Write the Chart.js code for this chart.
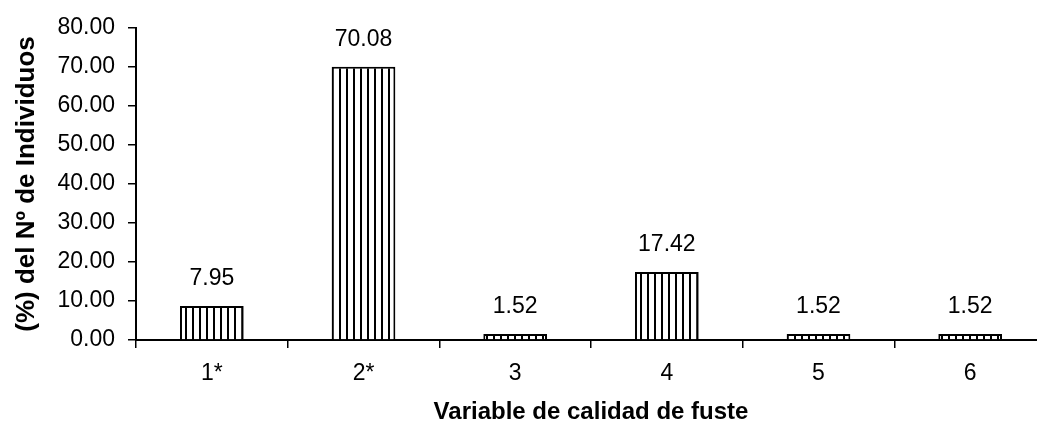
<!DOCTYPE html>
<html>
<head>
<meta charset="utf-8">
<script src="https://cdn.jsdelivr.net/npm/chart.js@4"></script>
<style>
  html, body { margin:0; padding:0; background:#fff; overflow:hidden; }
  #wrap { width:1046px; height:429px; }
</style>
</head>
<body>
<div id="wrap"><canvas id="chart"></canvas></div>
<script>
const categories = ['1*', '2*', '3', '4', '5', '6'];
// bar heights as drawn, and the labels printed above them
const barValues = [8.7, 70.08, 1.52, 17.42, 1.52, 1.52];
const barLabels = ['7.95', '70.08', '1.52', '17.42', '1.52', '1.52'];
const yTicks = [0, 10, 20, 30, 40, 50, 60, 70, 80];

const FONT = "'Liberation Sans', Arial, sans-serif";

// vertical stripe fill
function stripes() {
  const c = document.createElement('canvas');
  c.width = 7; c.height = 7;
  const g = c.getContext('2d');
  g.fillStyle = '#fff'; g.fillRect(0, 0, 7, 7);
  g.fillStyle = '#000'; g.fillRect(3, 0, 2, 7);
  return g.createPattern(c, 'repeat');
}

const valueLabels = {
  id: 'valueLabels',
  afterDatasetsDraw(chart) {
    const ctx = chart.ctx;
    ctx.save();
    ctx.font = '23px ' + FONT;
    ctx.fillStyle = '#000';
    ctx.textAlign = 'center';
    ctx.textBaseline = 'alphabetic';
    chart.getDatasetMeta(0).data.forEach((bar, i) => {
      ctx.fillText(barLabels[i], bar.x, bar.y - 21);
    });
    ctx.restore();
  }
};

new Chart(document.getElementById('chart'), {
  type: 'bar',
  data: {
    labels: categories,
    datasets: [{
      data: barValues,
      backgroundColor: stripes(),
      borderColor: '#000',
      borderWidth: 2,
      categoryPercentage: 1,
      barPercentage: 0.42
    }]
  },
  options: {
    responsive: true, maintainAspectRatio: false,
    animation: false,
    devicePixelRatio: 1,
    layout: { padding: { top: 28, left: 0, right: 0, bottom: 0 } },
    plugins: { legend: { display: false }, tooltip: { enabled: false } },
    scales: {
      x: {
        grid: { display: true, drawOnChartArea: false, drawTicks: true, tickLength: 8, color: '#000', lineWidth: 1.5 },
        border: { display: true, color: '#000', width: 2 },
        ticks: { color: '#000', font: { family: FONT, size: 23 }, padding: 12, maxRotation: 0 },
        title: { display: true, text: 'Variable de calidad de fuste', color: '#000',
                 font: { family: FONT, size: 24, weight: 'bold' }, padding: { top: 0, bottom: 2 } },
        afterFit(scale) { scale.height = 89; }
      },
      y: {
        min: 0, max: 80,
        afterBuildTicks(scale) { scale.ticks = yTicks.map(v => ({ value: v })); },
        grid: { display: true, drawOnChartArea: false, drawTicks: true, tickLength: 8, color: '#000', lineWidth: 1.5 },
        border: { display: true, color: '#000', width: 2 },
        ticks: { color: '#000', font: { family: FONT, size: 23 }, padding: 13, callback: v => v.toFixed(2) },
        title: { display: true, text: '(%) del Nº de Individuos', color: '#000',
                 font: { family: FONT, size: 26, weight: 'bold' }, padding: { top: 11, bottom: 0 } },
        afterFit(scale) { scale.width = 136; }
      }
    }
  },
  plugins: [valueLabels]
});
</script>
</body>
</html>
